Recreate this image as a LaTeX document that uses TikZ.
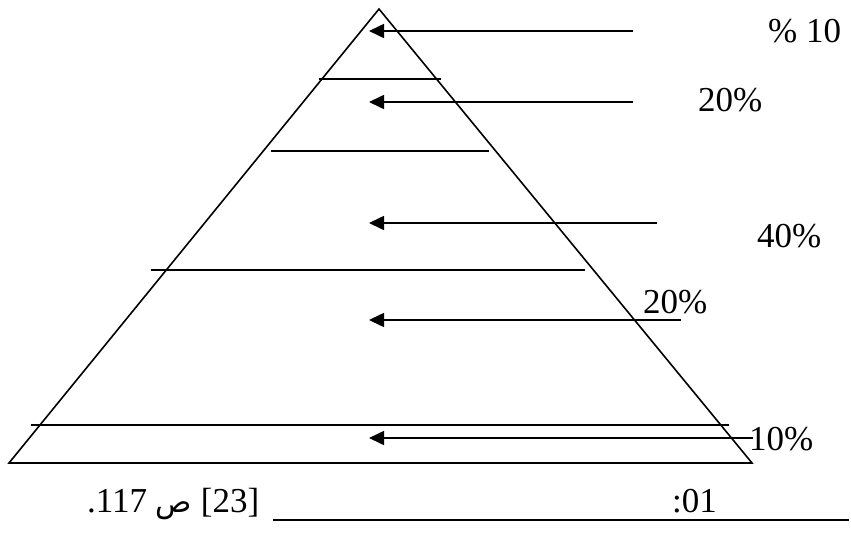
\documentclass[tikz,border=0pt]{standalone}
\usepackage{fontspec}
\setmainfont{Liberation Serif}
\newfontfamily\arabicfont[Script=Arabic]{DejaVu Sans}
\usetikzlibrary{arrows.meta}
\tikzset{
  ln/.style={line width=1.6pt, line cap=butt},
  arr/.style={line width=1.6pt, -{Triangle[length=15pt,width=14pt]}},
  lbl/.style={anchor=base west, inner sep=0pt, font=\fontsize{35}{40}\selectfont},
}
\begin{document}
\begin{tikzpicture}[x=1pt,y=-1pt]
\useasboundingbox (0,0) rectangle (851,533);
% triangle
\coordinate (apex) at (379,9);
\coordinate (bl) at (9,463);
\coordinate (br) at (752,463);
\draw[ln, line join=miter] (apex) -- (bl) -- (br) -- cycle;
% horizontal dividers
\coordinate (h1a) at (319,79); \coordinate (h1b) at (441,79);
\coordinate (h2a) at (271,151); \coordinate (h2b) at (489,151);
\coordinate (h3a) at (151,270); \coordinate (h3b) at (585,270);
\coordinate (h4a) at (31,425); \coordinate (h4b) at (729,425);
\draw[ln] (h1a) -- (h1b);
\draw[ln] (h2a) -- (h2b);
\draw[ln] (h3a) -- (h3b);
\draw[ln] (h4a) -- (h4b);
% arrows
\coordinate (a1s) at (633,31); \coordinate (a1e) at (369,31);
\coordinate (a2s) at (633,102); \coordinate (a2e) at (369,102);
\coordinate (a3s) at (657,223); \coordinate (a3e) at (369,223);
\coordinate (a4s) at (681,320); \coordinate (a4e) at (369,320);
\coordinate (a5s) at (753,438); \coordinate (a5e) at (369,438);
\draw[arr] (a1s) -- (a1e);
\draw[arr] (a2s) -- (a2e);
\draw[arr] (a3s) -- (a3e);
\draw[arr] (a4s) -- (a4e);
\draw[arr] (a5s) -- (a5e);
% labels
\node[lbl] (l1) at (768,42) {\%~10};
\node[lbl] (l2) at (698,111) {20\%};
\node[lbl] (l3) at (757,247) {40\%};
\node[lbl] (l4) at (643,313) {20\%};
\node[lbl] (l5) at (749,450) {10\%};
% bottom
\node[lbl] (src) at (87,512) {.117 {\arabicfont\fontsize{30}{36}\selectfont ص} [23]};
\node[lbl] (num) at (672,512) {:01};
\coordinate (u1) at (273,520); \coordinate (u2) at (849,520);
\draw[ln] (u1) -- (u2);
\end{tikzpicture}
\end{document}
